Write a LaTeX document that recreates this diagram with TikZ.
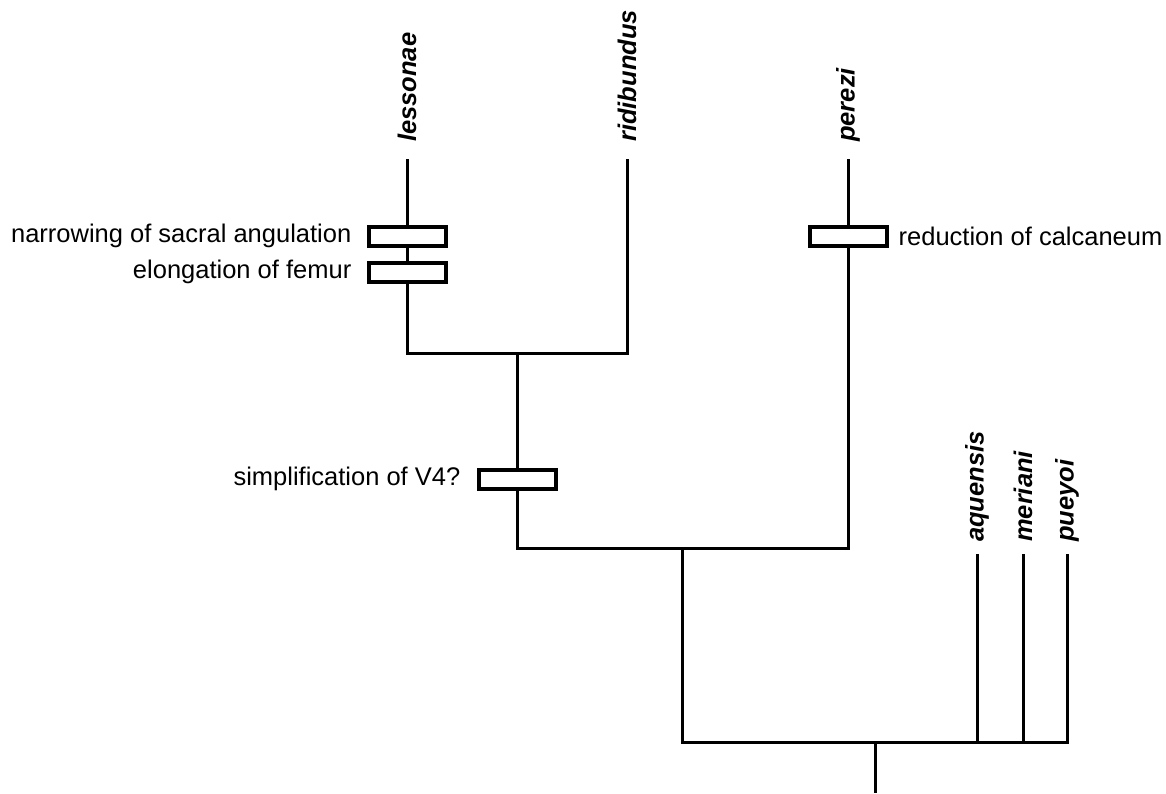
\documentclass[tikz,border=0pt]{standalone}
\usepackage{fontspec}
\setmainfont{Liberation Sans}
\usetikzlibrary{positioning,calc}

\begin{document}
\begin{tikzpicture}[x=1pt,y=-1pt,
    taxon/.style={rotate=90,anchor=west,inner sep=0pt,font=\fontsize{25.5}{30}\selectfont\bfseries\itshape},
    branch/.style={line width=3pt},
    apo/.style={draw,fill=white,line width=4pt,minimum width=77pt,minimum height=19pt,inner sep=0pt},
    trait/.style={inner sep=0pt,font=\fontsize{25.5}{30}\selectfont}]
        \useasboundingbox (0,0) rectangle (1166,793);

        % taxa
        \node[taxon] (lessonae) at (407,142) {lessonae};
        \node[taxon] (ridibundus) at (627,142) {ridibundus};
        \node[taxon] (perezi) at (848,142) {perezi};
        \node[taxon] (aquensis) at (977,542) {aquensis};
        \node[taxon] (meriani) at (1023,542) {meriani};
        \node[taxon] (pueyoi) at (1067,542) {pueyoi};

        % tips and nodes
        \coordinate (tl) at (407,159);
        \coordinate (tr) at (627,159);
        \coordinate (tp) at (848,159);
        \coordinate (ta) at (977,554);
        \coordinate (tm) at (1023,554);
        \coordinate (tq) at (1067,554);
        \coordinate (n1) at (517,353);
        \coordinate (n2) at (682,548);
        \coordinate (n3) at (875,742);
        \coordinate (root) at (875,793);

        \draw[branch] (tl) |- (n1) -| (tr);
        \draw[branch] (n1) |- (n2) -| (tp);
        \draw[branch] (n2) |- (n3) -| (tq);
        \draw[branch] (n3) -- (root);
        \foreach \t in {ta,tm}{
            \draw[branch] (\t) -- (\t |- n3);
        }

        % characters
        \node[apo] (b1) at (407,236) {};
        \node[apo] (b2) at (407,272) {};
        \node[apo] (b3) at (848,236) {};
        \node[apo] (b4) at (517,479) {};
        \node[trait] (c1) [left=15pt of b1] {narrowing of sacral angulation};
        \node[trait] (c2) [left=15pt of b2] {elongation of femur};
        \node[trait] (c3) [right=10pt of b3] {reduction of calcaneum};
        \node[trait] (c4) [left=16pt of b4] {simplification of V4?};
    \end{tikzpicture}
\end{document}
